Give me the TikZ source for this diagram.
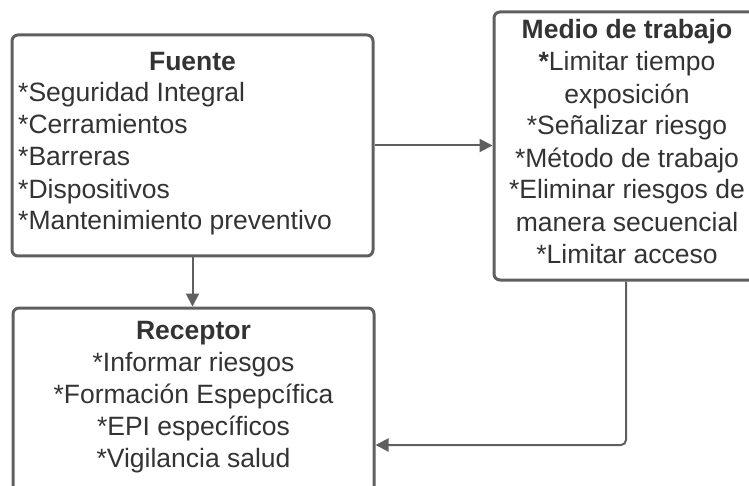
\documentclass[tikz,border=0pt]{standalone}
\usepackage{fontspec}
\setmainfont{Liberation Sans}
\usetikzlibrary{arrows.meta}
\definecolor{edge}{HTML}{5F5F5F}
\definecolor{ink}{HTML}{333333}
\tikzset{
  boxshape/.style={draw=edge, line width=3pt, rounded corners=6pt, rectangle, inner sep=0pt},
  txt/.style={text=ink, inner sep=0pt, font=\fontsize{26.5}{32}\selectfont, anchor=base},
  ttl/.style={txt, font=\bfseries\fontsize{26.5}{32}\selectfont},
  conn/.style={draw=edge, line width=2pt, -{Triangle[length=13pt,width=13pt]}, rounded corners=5pt}
}
\begin{document}
\begin{tikzpicture}[x=1pt,y=-1pt]
\useasboundingbox (0,0) rectangle (749,486);
\clip (0,0) rectangle (749,486);
% boxes
\node[boxshape, minimum width=361pt, minimum height=221pt] (fuente) at (192.5,145.5) {};
\node[boxshape, minimum width=266pt, minimum height=268pt] (medio) at (627,146) {};
\node[boxshape, minimum width=361pt, minimum height=190pt] (receptor) at (193.5,403) {};
% texts (base anchor = baseline of the last line)
\node[ttl] (fuenteT) at (192.5,71) {Fuente};
\node[txt, align=left, anchor=base west] (fuenteB) at (18,230) {*Seguridad Integral\\*Cerramientos\\*Barreras\\*Dispositivos\\*Mantenimiento preventivo};
\node[ttl] (medioT) at (627,39) {Medio de trabajo};
\node[txt, align=center] (medioB) at (627,263) {{\bfseries *}Limitar tiempo\\exposición\\*Señalizar riesgo\\*Método de trabajo\\*Eliminar riesgos de\\manera secuencial\\*Limitar acceso};
\node[ttl] (receptorT) at (193.5,339) {Receptor};
\node[txt, align=center] (receptorB) at (193.5,467) {*Informar riesgos\\*Formación Espepcífica\\*EPI específicos\\*Vigilancia salud};
% connectors
\coordinate (bend) at (626,445);
\draw[conn] (fuente.east) -- (fuente.east -| medio.west);
\draw[conn] (fuente.south) -- (fuente.south |- receptor.north);
\draw[conn] (medio.south -| bend) -- (bend) -- (receptor.east |- bend);
\end{tikzpicture}
\end{document}
